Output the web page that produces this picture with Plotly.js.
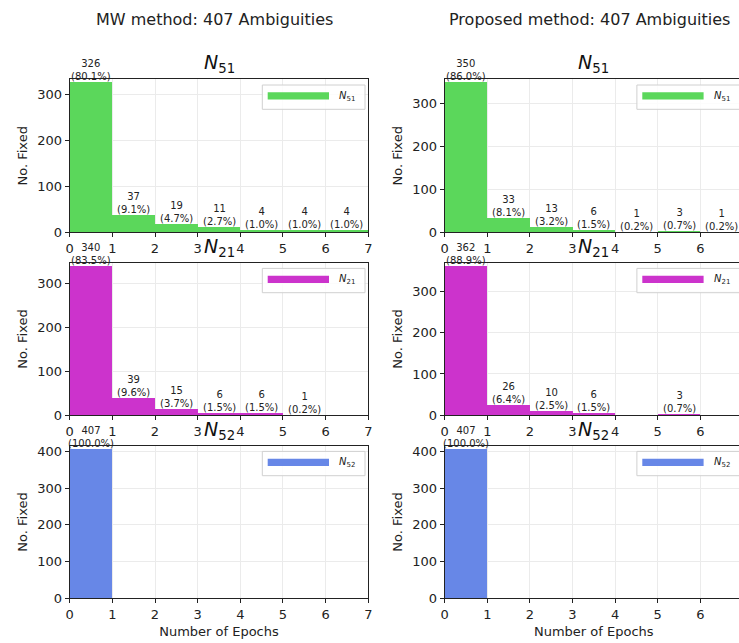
<!DOCTYPE html>
<html>
<head>
<meta charset="utf-8">
<script src="https://cdn.plot.ly/plotly-3.0.1.min.js"></script>
<style>
  html, body { margin: 0; padding: 0; overflow: hidden; background: #fff; }
  #chart { width: 745px; height: 643px; }
</style>
</head>
<body>
<div id="chart"></div>
<script>
// Histogram bins: number of epochs needed to fix each ambiguity
const binEdges = [0, 1, 2, 3, 4, 5, 6];
const xTicks = [0, 1, 2, 3, 4, 5, 6, 7];
const totalAmbiguities = 407;

// MW method
const mwN51 = [326, 37, 19, 11, 4, 4, 4];
const mwN21 = [340, 39, 15, 6, 6, 1, 0];
const mwN52 = [407, 0, 0, 0, 0, 0, 0];

// Proposed method
const prN51 = [350, 33, 13, 6, 1, 3, 1];
const prN21 = [362, 26, 10, 6, 0, 3, 0];
const prN52 = [407, 0, 0, 0, 0, 0, 0];

const columnTitles = ['MW method: 407 Ambiguities', 'Proposed method: 407 Ambiguities'];
const rowNames = ['51', '21', '52'];
const rowColors = ['rgb(91,215,91)', 'rgb(204,51,204)', 'rgb(103,135,231)'];
const panels = [[mwN51, prN51], [mwN21, prN21], [mwN52, prN52]];

const FONT = 'DejaVu Sans, sans-serif';
const W = 745, H = 643;

// pixel boxes of the plot areas
const colX = [[69.7, 368.3], [444.7, 742.9]];
const rowY = [[79.3, 232.3], [262.7, 415.3], [445.7, 598.3]];
const titleX = [214.7, 589];

const traces = [];
const annotations = [];
const shapes = [];
const layout = {
  width: W, height: H,
  margin: {l: 0, r: 0, t: 0, b: 0},
  paper_bgcolor: '#fff', plot_bgcolor: '#fff',
  showlegend: false,
  font: {family: FONT, color: '#222', size: 13},
  bargap: 0
};

const centers = binEdges.map(e => e + 0.5);

for (let r = 0; r < 3; r++) {
  for (let c = 0; c < 2; c++) {
    const idx = r * 2 + c + 1;
    const xa = idx === 1 ? 'x' : 'x' + idx;
    const ya = idx === 1 ? 'y' : 'y' + idx;
    const xKey = idx === 1 ? 'xaxis' : 'xaxis' + idx;
    const yKey = idx === 1 ? 'yaxis' : 'yaxis' + idx;
    const counts = panels[r][c];
    const maxCount = Math.max(...counts);

    traces.push({
      type: 'bar', x: centers, y: counts, width: 1,
      xaxis: xa, yaxis: ya,
      marker: {color: rowColors[r], line: {width: 0}},
      hoverinfo: 'skip'
    });

    layout[xKey] = {
      domain: [colX[c][0] / W, colX[c][1] / W],
      anchor: ya,
      range: [0, 7],
      tickvals: xTicks, ticktext: xTicks.map(String),
      ticks: 'outside', ticklen: 4, tickwidth: 1, tickcolor: '#222',
      tickfont: {size: 13, family: FONT, color: '#222'},
      showline: true, mirror: true, linecolor: '#222', linewidth: 1,
      showgrid: true, gridcolor: '#ebebeb', gridwidth: 1,
      zeroline: false, fixedrange: true
    };
    if (r === 2) {
      layout[xKey].title = {text: 'Number of Epochs', font: {size: 13, family: FONT, color: '#222'}, standoff: 5};
    }
    layout[yKey] = {
      domain: [1 - rowY[r][1] / H, 1 - rowY[r][0] / H],
      anchor: xa,
      range: [0, maxCount * 1.02],
      dtick: 100, tick0: 0,
      ticks: 'outside', ticklen: 4, tickwidth: 1, tickcolor: '#222',
      tickfont: {size: 13, family: FONT, color: '#222'},
      showline: true, mirror: true, linecolor: '#222', linewidth: 1,
      showgrid: true, gridcolor: '#ebebeb', gridwidth: 1,
      zeroline: false, fixedrange: true,
      title: {text: 'No. Fixed', font: {size: 13, family: FONT, color: '#222'}, standoff: 6}
    };

    // count and share above each non-empty bin
    counts.forEach((n, i) => {
      if (n <= 0) return;
      const pct = (n / totalAmbiguities * 100).toFixed(1);
      annotations.push({
        xref: xa, yref: ya, x: centers[i], y: n,
        text: n + '<br>(' + pct + '%)',
        showarrow: false, xanchor: 'center', yanchor: 'bottom',
        borderpad: 0, yshift: -1,
        font: {size: 10, family: FONT, color: '#222'}
      });
    });

    // panel title
    annotations.push({
      xref: xa + ' domain', yref: ya + ' domain', x: 0.5, y: 1,
      text: '<i>N</i><sub>' + rowNames[r] + '</sub>',
      showarrow: false, xanchor: 'center', yanchor: 'bottom', yshift: 1,
      font: {size: 19, family: FONT, color: '#111'}
    });

    // legend box, patch and label
    shapes.push({
      type: 'rect', xref: xa + ' domain', yref: ya + ' domain',
      xsizemode: 'pixel', ysizemode: 'pixel', xanchor: 1, yanchor: 1,
      x0: -106, x1: -3.3, y0: -30, y1: -5.7,
      line: {color: '#d0d0d0', width: 1}, fillcolor: 'rgba(255,255,255,0.85)',
      layer: 'above'
    });
    shapes.push({
      type: 'rect', xref: xa + ' domain', yref: ya + ' domain',
      xsizemode: 'pixel', ysizemode: 'pixel', xanchor: 1, yanchor: 1,
      x0: -100.6, x1: -39.3, y0: -20.2, y1: -13,
      line: {width: 0}, fillcolor: rowColors[r], layer: 'above'
    });
    annotations.push({
      xref: xa + ' domain', yref: ya + ' domain', x: 1, y: 1,
      xshift: -31, yshift: -17,
      text: '<i>N</i><sub>' + rowNames[r] + '</sub>',
      showarrow: false, xanchor: 'left', yanchor: 'middle',
      font: {size: 10, family: FONT, color: '#222'}
    });
  }
}

// column headings
for (let c = 0; c < 2; c++) {
  annotations.push({
    xref: 'paper', yref: 'paper', x: titleX[c] / W, y: 1 - 20 / H,
    text: columnTitles[c], showarrow: false,
    xanchor: 'center', yanchor: 'middle',
    font: {size: 16, family: FONT, color: '#222'}
  });
}

layout.annotations = annotations;
layout.shapes = shapes;

Plotly.newPlot('chart', traces, layout, {staticPlot: true, displayModeBar: false});
</script>
</body>
</html>
